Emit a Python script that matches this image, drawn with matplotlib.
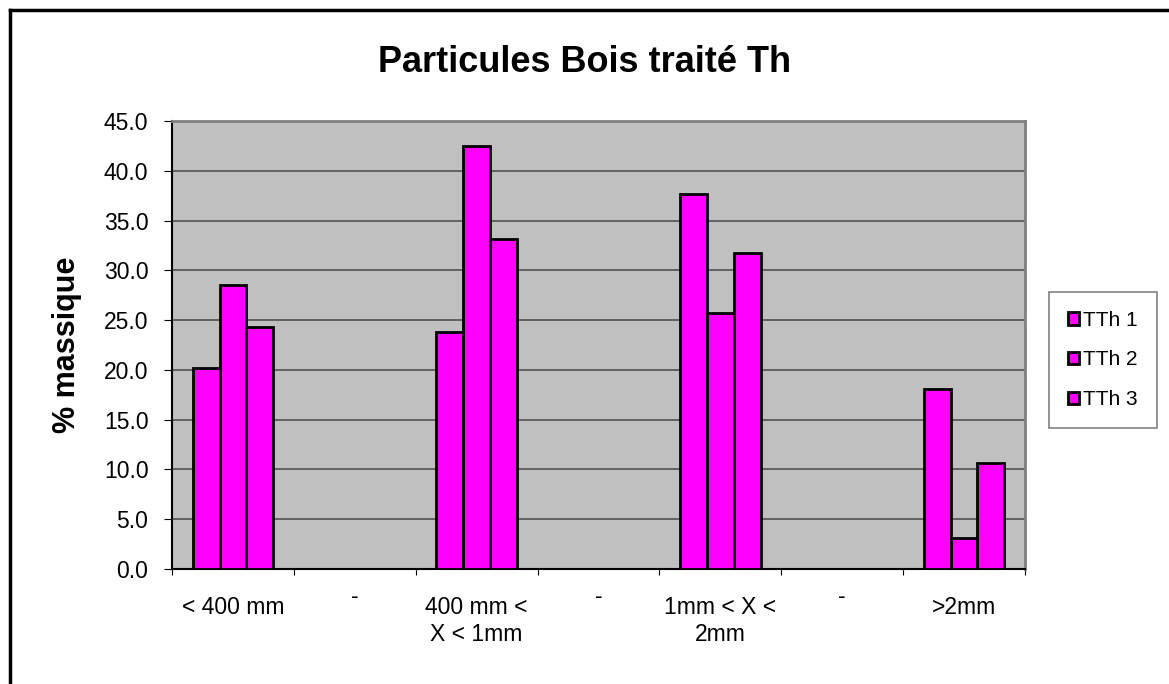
import numpy as np
import matplotlib
matplotlib.use('Agg')
import matplotlib.pyplot as plt
from matplotlib.lines import Line2D

plt.rcParams['font.family'] = ['Liberation Sans', 'DejaVu Sans']

categories = ["< 400 mm", "-", "400 mm <\nX < 1mm", "-", "1mm < X <\n2mm", "-", ">2mm"]
series_names = ["TTh 1", "TTh 2", "TTh 3"]
tth1 = [20.2, np.nan, 23.8, np.nan, 37.7, np.nan, 18.1]
tth2 = [28.5, np.nan, 42.5, np.nan, 25.7, np.nan, 3.1]
tth3 = [24.3, np.nan, 33.1, np.nan, 31.7, np.nan, 10.6]
yticks = [0, 5, 10, 15, 20, 25, 30, 35, 40, 45]

W, H = 1169, 684
ax_h = 569 - 121
fig = plt.figure(figsize=(W / 100, H / 100), dpi=100)
ax = fig.add_axes([172 / W, 1 - 569 / H, (1025 - 172) / W, ax_h / H])
ax.set_facecolor('#c0c0c0')

x = np.arange(len(categories))
bw = 0.22
for i, vals in enumerate([tth1, tth2, tth3]):
    ax.bar(x + (i - 1) * bw, vals, width=bw, color='#ff00ff',
           edgecolor='black', linewidth=2, zorder=3, label=series_names[i])

ax.set_xlim(-0.5, len(categories) - 0.5)
ax.set_ylim(0, 45)
ax.set_yticks(yticks)
ax.set_yticklabels([f"{v:.1f}" for v in yticks])
ax.yaxis.grid(True, color='#5a5a5a', linewidth=1.3, zorder=1)

# tick marks sit on the category boundaries
ax.set_xticks(np.arange(len(categories) + 1) - 0.5)
ax.set_xticklabels([])
ax.tick_params(axis='x', which='major', length=4.5, color='black')
ax.tick_params(axis='y', length=6, labelsize=16.5, pad=11)

# category names under each slot; the separator dashes sit higher
for xi, name in zip(x, categories):
    dy = 16 if name == "-" else 27
    ax.text(xi, -dy / ax_h, name, transform=ax.get_xaxis_transform(),
            ha='center', va='top', fontsize=16.5, linespacing=1.2,
            multialignment='center')

for side in ['top', 'right']:
    ax.spines[side].set_color('#808080')
    ax.spines[side].set_linewidth(2)
for side in ['left', 'bottom']:
    ax.spines[side].set_color('black')
    ax.spines[side].set_linewidth(1.5)
ax.set_axisbelow(True)

ax.set_ylabel("% massique", fontsize=22, fontweight='bold', labelpad=16)
fig.text(585 / W, 1 - 63 / H, "Particules Bois traité Th", fontsize=26,
         fontweight='bold', ha='center', va='center')

leg = ax.legend(loc='center left', bbox_to_anchor=(1049 / W, 1 - 360 / H),
                bbox_transform=fig.transFigure, fontsize=15, frameon=True,
                fancybox=False, handlelength=0.55, handleheight=0.55,
                handletextpad=0.2, labelspacing=1.0, borderpad=0.9,
                borderaxespad=0, edgecolor='#606060')
leg.get_frame().set_linewidth(1.2)
for h in leg.legend_handles:
    h.set_linewidth(2)

# chart border (left and top edges)
fig.add_artist(Line2D([10 / W, 10 / W], [0, 1 - 10 / H], color='black', linewidth=2.5))
fig.add_artist(Line2D([10 / W, 1], [1 - 10 / H, 1 - 10 / H], color='black', linewidth=2.5))

fig.savefig('out.png', dpi=100)
